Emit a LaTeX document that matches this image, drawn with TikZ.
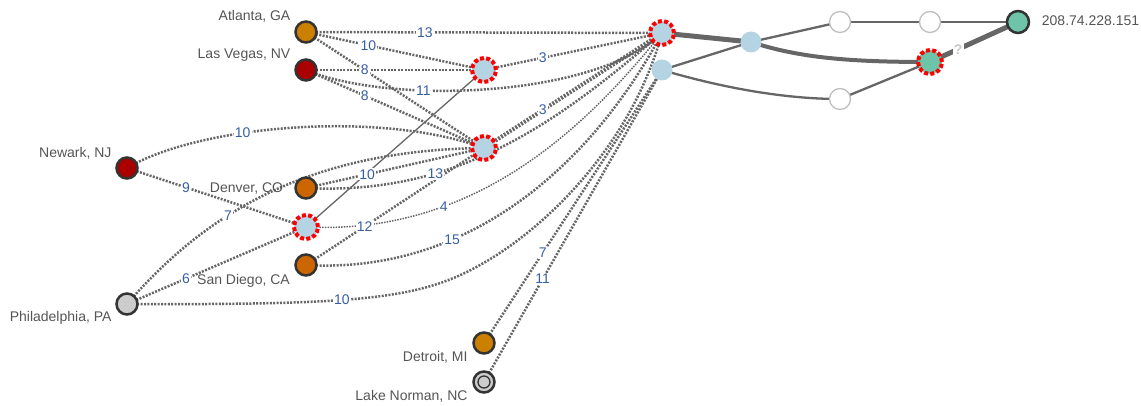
\documentclass[tikz,border=0pt]{standalone}
\usepackage{fontspec}
\setmainfont{Liberation Sans}
\usetikzlibrary{backgrounds}
\definecolor{edgegray}{RGB}{102,102,102}
\definecolor{lblblue}{RGB}{55,95,160}
\definecolor{txtgray}{RGB}{85,85,85}
\definecolor{ringgray}{RGB}{51,51,51}
\definecolor{citygold}{RGB}{204,128,0}
\definecolor{cityrust}{RGB}{204,102,0}
\definecolor{citybrick}{RGB}{170,0,0}
\definecolor{citygray}{RGB}{204,204,204}
\definecolor{hopblue}{RGB}{180,212,228}
\definecolor{mintgreen}{RGB}{110,196,168}
\definecolor{hubred}{RGB}{255,0,0}
\definecolor{wborder}{RGB}{190,190,190}
\definecolor{qgray}{RGB}{200,200,200}
\tikzset{
  city/.style={circle, draw=ringgray, line width=2.5pt, minimum size=21pt, inner sep=0pt},
  hub/.style={circle, draw=hubred, fill=hopblue, line width=4pt, minimum size=24pt, inner sep=0pt, dash pattern=on 4pt off 2.28pt},
  hop/.style={circle, fill=hopblue, minimum size=21pt, inner sep=0pt},
  whitehop/.style={circle, draw=wborder, fill=white, line width=1.3pt, minimum size=21pt, inner sep=0pt},
  nlabel/.style={text=txtgray, font=\fontsize{14}{14}\selectfont, inner sep=0pt},
  elabel/.style={fill=white, text=lblblue, font=\fontsize{14}{14}\selectfont, inner sep=1.2pt},
  qlabel/.style={fill=white, text=qgray, font=\bfseries\fontsize{14}{14}\selectfont, inner sep=1.2pt},
  dotedge/.style={draw=edgegray, line width=2.5pt, dash pattern=on 2pt off 1.4pt},
  thindot/.style={draw=edgegray, line width=1.5pt, dash pattern=on 1.5pt off 1.2pt},
  thickdot/.style={draw=edgegray, line width=4pt, dash pattern=on 2pt off 1.4pt},
  link/.style={draw=edgegray, line width=2.3pt},
  fatlink/.style={draw=edgegray, line width=5pt},
  thinlink/.style={draw=edgegray, line width=1.3pt},
}
\begin{document}
\begin{tikzpicture}[x=1pt,y=-1pt]
\useasboundingbox (0,0) rectangle (1141,406);
% nodes
\node[city, fill=citygold] (atl) at (306,32) {};
\node[city, fill=citybrick] (lv) at (306,70) {};
\node[city, fill=citybrick] (nwk) at (127,168) {};
\node[city, fill=cityrust] (den) at (306,188) {};
\node[hub] (h3) at (306,227) {};
\node[city, fill=cityrust] (sd) at (306,265) {};
\node[city, fill=citygray] (phl) at (127,304) {};
\node[city, fill=citygold] (det) at (484,343) {};
\node[city, fill=citygray] (ln) at (484,382) {};
\node[circle, draw=ringgray, fill=citygray, line width=1.3pt, minimum size=12pt, inner sep=0pt] (lnin) at (ln) {};
\node[hub] (h1) at (484,70) {};
\node[hub] (h2) at (484,148) {};
\node[hub] (h0) at (662,33) {};
\node[hop] (b1) at (751,42) {};
\node[hop] (b2) at (662,70) {};
\node[whitehop] (w1) at (840,22) {};
\node[whitehop] (w2) at (930,22) {};
\node[whitehop] (w3) at (840,99) {};
\node[hub, fill=mintgreen] (g1) at (930,62) {};
\node[city, fill=mintgreen, minimum size=22pt] (dst) at (1018,22) {};
% node texts
\node[nlabel, anchor=base east] (atlT) at (290.5,20.7) {Atlanta, GA};
\node[nlabel, anchor=base east] (lvT) at (290.5,58.5) {Las Vegas, NV};
\node[nlabel, anchor=base east] (nwkT) at (111.7,157.3) {Newark, NJ};
\node[nlabel, anchor=base east] (denT) at (283.3,192.7) {Denver, CO};
\node[nlabel, anchor=base east] (sdT) at (290,284.7) {San Diego, CA};
\node[nlabel, anchor=base east] (phlT) at (111.7,321.7) {Philadelphia, PA};
\node[nlabel, anchor=base east] (detT) at (467.7,361.7) {Detroit, MI};
\node[nlabel, anchor=base east] (lnT) at (467.7,400) {Lake Norman, NC};
\node[nlabel, anchor=base west] (dstT) at (1041.7,25.5) {208.74.228.151};
% connectors
\begin{pgfonlayer}{background}
\draw[thinlink] (h1.center) -- (h3.center);
\draw[fatlink] (h0.center) -- (b1.center);
\draw[link] (b1.center) -- (w1.center);
\draw[link] (w1.center) -- (w2.center);
\draw[link] (w2.center) -- (dst.center);
\draw[link] (b2.center) -- (b1.center);
\draw[link] (b2.center) .. controls (730,90) and (790,99) .. (w3.center);
\draw[link] (w3.center) -- (g1.center);
\draw[draw=edgegray, line width=4pt] (b1.center) .. controls (800,58) and (850,62) .. (g1.center);
\draw[fatlink] (g1.center) -- node[qlabel, pos=0.32] {?} (dst.center);
\draw[dotedge] (atl.center) -- node[elabel, pos=0.334] {13} (h0.center);
\draw[dotedge] (atl.center) -- node[elabel, pos=0.35] {10} (h1.center);
\draw[dotedge] (atl.center) -- node[elabel, pos=0.33] {8} (h2.center);
\draw[dotedge] (lv.center) -- node[elabel, pos=0.33] {8} (h1.center);
\draw[dotedge] (lv.center) -- node[elabel, pos=0.33] {8} (h2.center);
\draw[dotedge] (lv.center) .. controls (390,105) and (595,98) .. (h0.center) node[elabel, pos=0.34] {11};
\draw[dotedge] (nwk.center) .. controls (200,125) and (380,110) .. (h2.center) node[elabel, pos=0.37] {10};
\draw[dotedge] (nwk.center) -- node[elabel, pos=0.33] {9} (h3.center);
\draw[dotedge] (phl.center) -- node[elabel, pos=0.33] {6} (h3.center);
\draw[dotedge] (phl.center) .. controls (200,220) and (300,150) .. (h2.center) node[elabel, pos=0.39] {7};
\draw[dotedge] (phl.center) .. controls (360,305) and (420,299) .. (480,265) node[elabel, pos=0.42] {10} .. controls (540,232) and (630,150) .. (h0.center);
\draw[thindot] (h3.center) .. controls (470,235) and (580,135) .. (h0.center) node[elabel, pos=0.31] {4};
\draw[dotedge] (den.center) -- node[elabel, pos=0.343] {10} (h2.center);
\draw[dotedge] (sd.center) -- node[elabel, pos=0.33] {12} (h2.center);
\draw[dotedge] (den.center) .. controls (460,196) and (560,120) .. (h0.center) node[elabel, pos=0.31] {13};
\draw[dotedge] (sd.center) .. controls (480,275) and (600,150) .. (h0.center) node[elabel, pos=0.31] {15};
\draw[dotedge] (h1.center) -- node[elabel, pos=0.33] {3} (h0.center);
\draw[thickdot] (h2.center) -- node[elabel, pos=0.33] {3} (h0.center);
\draw[dotedge] (det.center) -- node[elabel, pos=0.33] {7} (b2.center);
\draw[dotedge] (ln.center) -- node[elabel, pos=0.33] {11} (b2.center);
\end{pgfonlayer}
\end{tikzpicture}
\end{document}
